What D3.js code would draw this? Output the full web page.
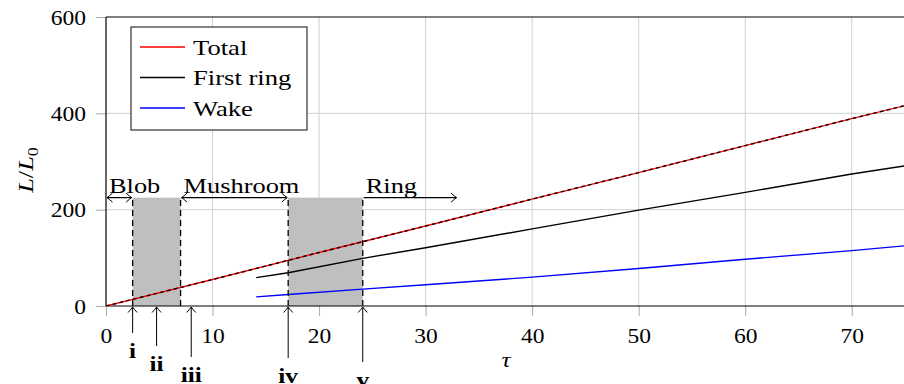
<!DOCTYPE html>
<html>
<head>
<meta charset="utf-8">
<script src="https://cdn.jsdelivr.net/npm/d3@7"></script>
<style>
  body { margin: 0; background: #fff; }
  svg text { font-family: "Liberation Serif", "DejaVu Serif", serif; fill: #000; }
</style>
</head>
<body>
<div id="chart"></div>
<script>
// values
var xTicks = [0, 10, 20, 30, 40, 50, 60, 70];
var yTicks = [0, 200, 400, 600];

var totalTau = [0, 10, 20, 30, 40, 50, 60, 70, 75];
var totalVal = [0, 55, 111, 166, 222, 277, 333, 389, 416];

var ringTau = [14.1, 17.1, 24.1, 30, 40, 50, 60, 70, 75];
var ringVal = [59, 69, 99, 121, 160, 199, 236, 274, 291];

var wakeTau = [14.1, 17.1, 24.1, 30, 40, 50, 60, 70, 75];
var wakeVal = [19, 24, 35, 44, 60, 78, 97, 115, 125];

// transition bands (start, end) and their height
var bandStart = [2.5, 17.1];
var bandEnd = [7.0, 24.1];
var bandTop = 225;

// phases
var phaseNames = ["Blob", "Mushroom", "Ring"];
var phaseStart = [0, 7.0, 24.1];
var phaseEnd = [2.5, 17.1, 33];

// marked instants
var eventTau = [2.5, 4.75, 8.0, 17.1, 24.1];
var eventLabels = ["i", "ii", "iii", "iv", "v"];

var seriesNames = ["Total", "First ring", "Wake"];
var seriesColors = ["#ff0000", "#000000", "#0000ff"];

var W = 904, H = 384;
var svg = d3.select("#chart").append("svg").attr("width", W).attr("height", H);

var x = d3.scaleLinear().domain([0, 75]).range([106, 905]);
var y = d3.scaleLinear().domain([0, 600]).range([306, 17]);

// the original type is wider than Times; stretch text horizontally
function widen(sel, s) {
    sel.each(function() {
        var t = d3.select(this);
        var tx = +t.attr("x") || 0, ty = +t.attr("y") || 0;
        t.attr("x", 0).attr("y", 0)
         .attr("transform", "translate(" + tx + "," + ty + ") scale(" + s + ",1)");
    });
}

var defs = svg.append("defs");
defs.append("clipPath").attr("id", "plotClip").append("rect")
    .attr("x", x(0)).attr("y", y(600)).attr("width", x(75) - x(0)).attr("height", y(0) - y(600));
defs.append("marker").attr("id", "tip")
    .attr("viewBox", "-7 -6 9 12").attr("refX", 0).attr("refY", 0)
    .attr("markerWidth", 9).attr("markerHeight", 12)
    .attr("markerUnits", "userSpaceOnUse").attr("orient", "auto-start-reverse")
    .append("path").attr("d", "M-5.5,-4.5 Q-1.8,-1.2 0,0 Q-1.8,1.2 -5.5,4.5")
    .attr("fill", "none").attr("stroke", "#000").attr("stroke-width", 1);

// grid
var grid = svg.append("g");
grid.selectAll(".gx").data(xTicks.filter(function(d) { return d > 0; })).enter().append("line")
    .attr("x1", function(d) { return x(d); }).attr("x2", function(d) { return x(d); })
    .attr("y1", y(0)).attr("y2", y(600))
    .attr("stroke", "#d0d0d0").attr("stroke-width", 1);
grid.selectAll(".gy").data(yTicks.filter(function(d) { return d > 0 && d < 600; })).enter().append("line")
    .attr("x1", x(0)).attr("x2", x(75))
    .attr("y1", function(d) { return y(d); }).attr("y2", function(d) { return y(d); })
    .attr("stroke", "#d0d0d0").attr("stroke-width", 1);

// bands
svg.selectAll(".band").data(bandStart).enter().append("rect")
    .attr("x", function(d) { return x(d); })
    .attr("width", function(d, i) { return x(bandEnd[i]) - x(d); })
    .attr("y", y(bandTop)).attr("height", y(0) - y(bandTop))
    .attr("fill", "#bfbfbf");

// axes
var xAxis = svg.append("g").attr("transform", "translate(0," + y(0) + ")")
    .call(d3.axisBottom(x).tickValues(xTicks).tickSize(10).tickPadding(8).tickFormat(d3.format("d")));
var yAxis = svg.append("g").attr("transform", "translate(" + x(0) + ",0)")
    .call(d3.axisLeft(y).tickValues(yTicks).tickSize(10).tickPadding(10).tickFormat(d3.format("d")));
[xAxis, yAxis].forEach(function(a) {
    a.select(".domain").remove();
    a.selectAll(".tick line").attr("stroke", "#aaaaaa");
    a.selectAll(".tick text").style("font-size", "22px")
        .style("font-family", "'Liberation Serif', serif");
});
xAxis.selectAll(".tick text").attr("dy", "0.85em");
yAxis.selectAll(".tick text").attr("dy", "0.33em");
widen(xAxis.selectAll(".tick text"), 1.07);
widen(yAxis.selectAll(".tick text"), 1.07);

svg.append("line").attr("x1", x(0)).attr("x2", x(75)).attr("y1", y(0)).attr("y2", y(0))
    .attr("stroke", "#000").attr("stroke-width", 1.2);
svg.append("line").attr("x1", x(0)).attr("x2", x(75)).attr("y1", y(600)).attr("y2", y(600))
    .attr("stroke", "#000").attr("stroke-width", 1.2);
svg.append("line").attr("x1", x(0)).attr("x2", x(0)).attr("y1", y(0)).attr("y2", y(600))
    .attr("stroke", "#000").attr("stroke-width", 1.2);

// series
var line = d3.line()
    .x(function(d) { return x(d[0]); })
    .y(function(d) { return y(d[1]); });
var plot = svg.append("g").attr("clip-path", "url(#plotClip)");
var zip = function(a, b) { return a.map(function(t, i) { return [t, b[i]]; }); };

plot.append("path").datum(zip(ringTau, ringVal)).attr("d", line)
    .attr("fill", "none").attr("stroke", seriesColors[1]).attr("stroke-width", 1.4);
plot.append("path").datum(zip(wakeTau, wakeVal)).attr("d", line)
    .attr("fill", "none").attr("stroke", seriesColors[2]).attr("stroke-width", 1.4);
plot.append("path").datum(zip(totalTau, totalVal)).attr("d", line)
    .attr("fill", "none").attr("stroke", seriesColors[0]).attr("stroke-width", 1.4);
plot.append("path").datum(zip(totalTau, totalVal)).attr("d", line)
    .attr("fill", "none").attr("stroke", "#000").attr("stroke-width", 1.4)
    .attr("stroke-dasharray", "3.5,3.5");

// dashed band edges
var edges = bandStart.concat(bandEnd);
svg.selectAll(".edge").data(edges).enter().append("line")
    .attr("x1", function(d) { return x(d); }).attr("x2", function(d) { return x(d); })
    .attr("y1", y(0)).attr("y2", y(bandTop))
    .attr("stroke", "#000").attr("stroke-width", 1.3).attr("stroke-dasharray", "6,4");

// phase arrows
svg.selectAll(".phase").data(phaseNames).enter().append("line")
    .attr("x1", function(d, i) { return x(phaseStart[i]) + 1; })
    .attr("x2", function(d, i) { return x(phaseEnd[i]) - 1; })
    .attr("y1", y(bandTop)).attr("y2", y(bandTop))
    .attr("stroke", "#000").attr("stroke-width", 1.2)
    .attr("marker-start", function(d, i) { return i < 2 ? "url(#tip)" : null; })
    .attr("marker-end", "url(#tip)");
var phaseText = svg.selectAll(".phaseLabel").data(phaseNames).enter().append("text")
    .attr("x", function(d, i) { return x(phaseStart[i]) + 3; })
    .attr("y", y(bandTop) - 5)
    .style("font-size", "22px")
    .text(function(d) { return d; });
widen(phaseText, 1.2);

// event arrows under the axis
var stemEnd = [333, 346, 357, 358, 362];
svg.selectAll(".ev").data(eventTau).enter().append("line")
    .attr("x1", function(d) { return x(d); }).attr("x2", function(d) { return x(d); })
    .attr("y1", function(d, i) { return stemEnd[i]; }).attr("y2", y(0) + 1)
    .attr("stroke", "#000").attr("stroke-width", 1)
    .attr("marker-end", "url(#tip)");
var evText = svg.selectAll(".evLabel").data(eventLabels).enter().append("text")
    .attr("x", function(d, i) { return x(eventTau[i]); })
    .attr("y", function(d, i) { return stemEnd[i] + 25; })
    .attr("text-anchor", "middle")
    .style("font-size", "22px").style("font-weight", "bold")
    .text(function(d) { return d; });
widen(evText, 1.15);

// axis titles
var tau = svg.append("text").attr("x", 506).attr("y", 367).attr("text-anchor", "middle")
    .style("font-size", "22px").style("font-style", "italic").text("τ");
widen(tau, 1.15);
var yl = svg.append("text").attr("transform", "translate(33,170) rotate(-90) scale(1.2,1)")
    .attr("text-anchor", "middle").style("font-size", "22px").style("font-style", "italic");
yl.append("tspan").text("L");
yl.append("tspan").style("font-style", "normal").text("/");
yl.append("tspan").text("L");
yl.append("tspan").attr("dy", 5).style("font-size", "15px").style("font-style", "normal").text("0");

// legend
var lg = svg.append("g");
lg.append("rect").attr("x", 131).attr("y", 27).attr("width", 176).attr("height", 103)
    .attr("fill", "#fff").attr("stroke", "#333").attr("stroke-width", 1.2);
var rows = lg.selectAll(".row").data(seriesNames).enter().append("g")
    .attr("transform", function(d, i) { return "translate(0," + (47 + i * 30.5) + ")"; });
rows.append("line").attr("x1", 140).attr("x2", 185).attr("y1", 0).attr("y2", 0)
    .attr("stroke", function(d, i) { return seriesColors[i]; }).attr("stroke-width", 1.4);
var lgText = rows.append("text").attr("x", 193).attr("y", 7.5).style("font-size", "22px")
    .text(function(d) { return d; });
widen(lgText, 1.21);
</script>
</body>
</html>
